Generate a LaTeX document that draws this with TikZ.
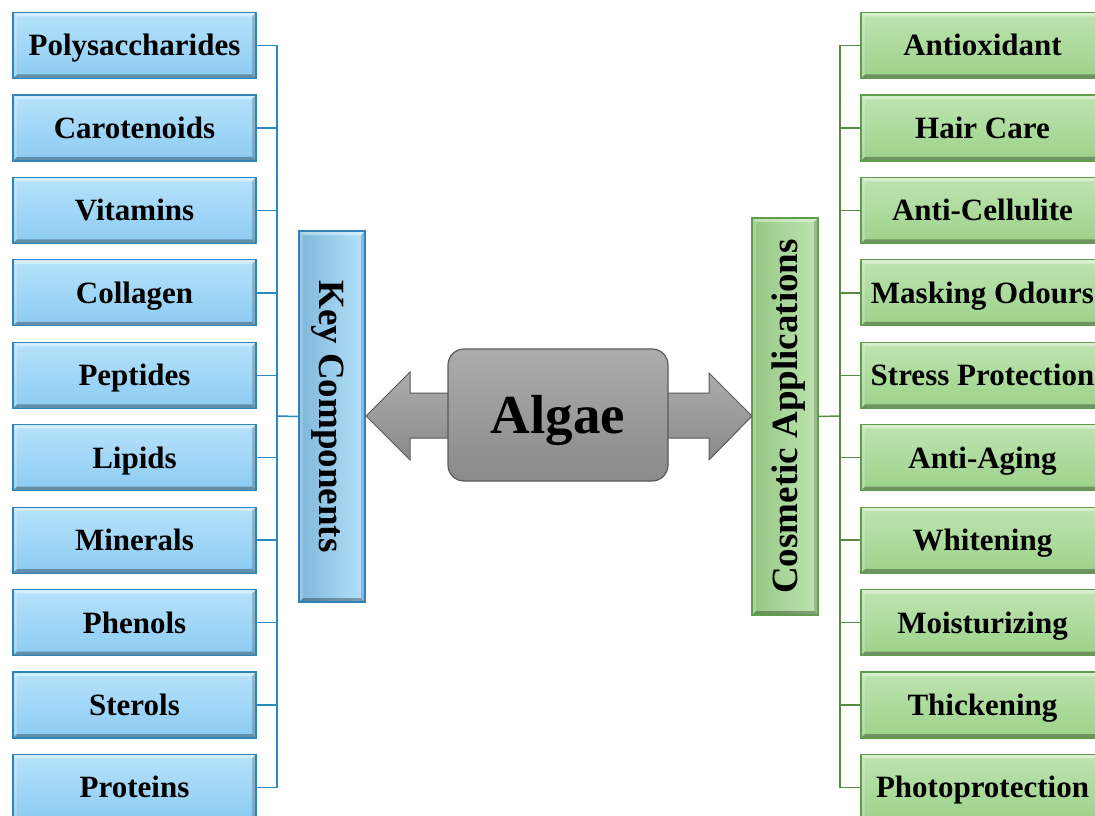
\documentclass[tikz,border=0pt]{standalone}
\usepackage{fontspec}
\setmainfont{Liberation Serif}
\usetikzlibrary{calc}
\definecolor{bluetop}{RGB}{182,226,251}
\definecolor{bluebot}{RGB}{140,203,242}
\definecolor{blueedge}{RGB}{46,132,186}
\definecolor{blueline}{RGB}{40,138,190}
\definecolor{greentop}{RGB}{190,228,176}
\definecolor{greenbot}{RGB}{156,210,138}
\definecolor{greenedge}{RGB}{96,158,76}
\definecolor{greenline}{RGB}{86,140,66}
\definecolor{graytop}{RGB}{172,172,172}
\definecolor{graybot}{RGB}{138,138,138}
\definecolor{grayedge}{RGB}{90,90,90}
\tikzset{
 bevel/.style={path picture={
   \fill[white,opacity=.40] (path picture bounding box.north west) -- (path picture bounding box.north east) -- ($(path picture bounding box.north east)+(-4pt,-4pt)$) -- ($(path picture bounding box.north west)+(4pt,-4pt)$) -- cycle;
   \fill[white,opacity=.20] (path picture bounding box.north west) -- (path picture bounding box.south west) -- ($(path picture bounding box.south west)+(4pt,4pt)$) -- ($(path picture bounding box.north west)+(4pt,-4pt)$) -- cycle;
   \fill[black,opacity=.30] (path picture bounding box.south west) -- (path picture bounding box.south east) -- ($(path picture bounding box.south east)+(-4pt,4pt)$) -- ($(path picture bounding box.south west)+(4pt,4pt)$) -- cycle;
   \fill[black,opacity=.18] (path picture bounding box.north east) -- (path picture bounding box.south east) -- ($(path picture bounding box.south east)+(-4pt,4pt)$) -- ($(path picture bounding box.north east)+(-4pt,-4pt)$) -- cycle;
 }},
 itembox/.style={draw, line width=1.2pt, bevel, minimum width=243pt, minimum height=66pt, inner sep=0pt,
   text height=21pt, text depth=0pt, font=\fontsize{31}{31}\selectfont\bfseries},
 lbox/.style={itembox, draw=blueedge, top color=bluetop, bottom color=bluebot},
 rbox/.style={itembox, draw=greenedge, top color=greentop, bottom color=greenbot},
 lbar/.style={draw=blueedge, line width=1.2pt, bevel, left color=bluebot!90!black, right color=bluetop, minimum width=66pt, minimum height=371pt, inner sep=0pt},
 rbar/.style={draw=greenedge, line width=1.2pt, bevel, left color=greenbot!95!black, right color=greentop, minimum width=66pt, minimum height=397pt, inner sep=0pt},
 bartext/.style={font=\fontsize{37}{37}\selectfont\bfseries, inner sep=0pt, text height=25pt, text depth=0pt},
 bline/.style={draw=blueline, line width=1.5pt},
 gline/.style={draw=greenline, line width=1.5pt},
 arrowshape/.style={draw=grayedge, line width=1pt, top color=graytop, bottom color=graybot, line join=miter},
 centerbox/.style={draw=grayedge, line width=1.2pt, rounded corners=16pt, top color=graytop, bottom color=graybot,
   minimum width=220pt, minimum height=132pt, inner sep=0pt, text height=36pt, text depth=0pt,
   font=\fontsize{55}{55}\selectfont\bfseries},
}
\begin{document}
\begin{tikzpicture}[x=1pt,y=-1pt]
\useasboundingbox (0,0) rectangle (1095,816);
\clip (0,0) rectangle (1095,816);
% left items
\foreach \t [count=\i] in {Polysaccharides,Carotenoids,Vitamins,Collagen,Peptides,Lipids,Minerals,Phenols,Sterols,Proteins}{
  \node[lbox] (l\i) at (134.5,{45.5+82.44*(\i-1)}) {\t};
}
% right items
\foreach \t [count=\i] in {Antioxidant,Hair Care,Anti-Cellulite,Masking Odours,Stress Protection,Anti-Aging,Whitening,Moisturizing,Thickening,Photoprotection}{
  \node[rbox] (r\i) at (982.5,{45.5+82.44*(\i-1)}) {\t};
}
% bars
\node[lbar] (kc) at (332,416.5) {};
\node[bartext, rotate=-90] (kct) at (kc) {Key Components};
\node[rbar] (ca) at (785,416.5) {};
\node[bartext, rotate=90] (cat) at (ca) {Cosmetic Applications};
% junctions
\coordinate (lj) at (277,416);
\coordinate (rj) at (840,416);
\foreach \i in {1,...,10}{
  \draw[bline] (l\i.east) -| (lj);
  \draw[gline] (r\i.west) -| (rj);
}
\draw[bline] (lj) -- (kc.west);
\draw[gline] (rj) -- (ca.east);
% arrows
\path[arrowshape] (450,393) -- (410,393) -- (410,372) -- (366,416) -- (410,460) -- (410,438) -- (450,438) -- cycle;
\path[arrowshape] (666,393) -- (709,393) -- (709,373) -- (752,416) -- (709,460) -- (709,438) -- (666,438) -- cycle;
% center
\node[centerbox] (algae) at (558,415) {Algae};
\end{tikzpicture}
\end{document}
